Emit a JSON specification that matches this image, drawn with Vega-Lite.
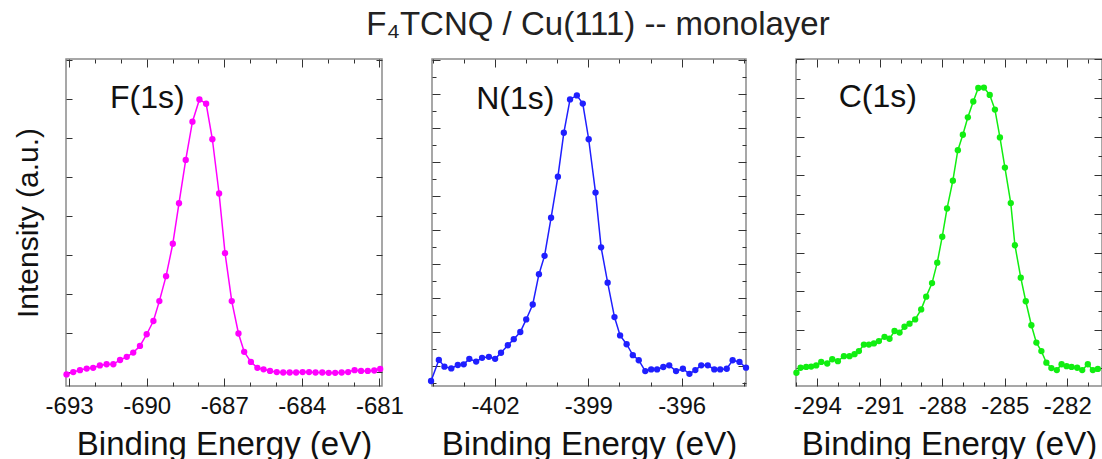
{
  "$schema": "https://vega.github.io/schema/vega-lite/v6.json",
  "background": "white",
  "padding": {"left": 12, "top": 8, "right": 0, "bottom": 0},
  "bounds": "flush",
  "spacing": 50,
  "title": {"text": "F₄TCNQ / Cu(111) -- monolayer", "font": "Liberation Sans", "fontSize": 33, "fontWeight": "normal", "color": "#222222", "anchor": "middle", "offset": 16, "dx": 40},
  "config": {
    "view": {"stroke": "#8a8a8a", "strokeWidth": 1.5},
    "axis": {"domain": false, "grid": false, "tickColor": "#333333", "tickWidth": 1, "labelFont": "Liberation Sans", "labelFontSize": 24, "labelColor": "#111111", "titleFont": "Liberation Sans", "titleFontWeight": "normal", "titleColor": "#111111", "labelFlush": false, "labelOverlap": false}
  },
  "datasets": {
    "F": [
      {"energy": -693.10, "intensity": -0.07}, {"energy": -692.84, "intensity": -0.01}, {"energy": -692.58, "intensity": 0.04}, {"energy": -692.32, "intensity": 0.08}, {"energy": -692.07, "intensity": 0.10}, {"energy": -691.81, "intensity": 0.16}, {"energy": -691.55, "intensity": 0.19}, {"energy": -691.29, "intensity": 0.19}, {"energy": -691.03, "intensity": 0.30}, {"energy": -690.77, "intensity": 0.38}, {"energy": -690.52, "intensity": 0.49}, {"energy": -690.26, "intensity": 0.66}, {"energy": -690.00, "intensity": 0.96}, {"energy": -689.74, "intensity": 1.30}, {"energy": -689.51, "intensity": 1.81}, {"energy": -689.25, "intensity": 2.45}, {"energy": -688.99, "intensity": 3.28}, {"energy": -688.75, "intensity": 4.32}, {"energy": -688.49, "intensity": 5.43}, {"energy": -688.23, "intensity": 6.41}, {"energy": -687.96, "intensity": 6.98}, {"energy": -687.70, "intensity": 6.87}, {"energy": -687.46, "intensity": 5.96}, {"energy": -687.20, "intensity": 4.57}, {"energy": -686.97, "intensity": 3.04}, {"energy": -686.71, "intensity": 1.81}, {"energy": -686.45, "intensity": 0.98}, {"energy": -686.23, "intensity": 0.51}, {"energy": -685.97, "intensity": 0.25}, {"energy": -685.72, "intensity": 0.10}, {"energy": -685.48, "intensity": 0.06}, {"energy": -685.23, "intensity": 0.02}, {"energy": -684.97, "intensity": -0.01}, {"energy": -684.72, "intensity": -0.02}, {"energy": -684.47, "intensity": -0.02}, {"energy": -684.22, "intensity": -0.02}, {"energy": -683.97, "intensity": -0.01}, {"energy": -683.72, "intensity": -0.01}, {"energy": -683.47, "intensity": -0.02}, {"energy": -683.21, "intensity": -0.02}, {"energy": -682.96, "intensity": -0.03}, {"energy": -682.71, "intensity": -0.03}, {"energy": -682.46, "intensity": -0.02}, {"energy": -682.21, "intensity": -0.01}, {"energy": -681.96, "intensity": 0.04}, {"energy": -681.71, "intensity": 0.02}, {"energy": -681.45, "intensity": 0.02}, {"energy": -681.20, "intensity": 0.03}, {"energy": -680.97, "intensity": 0.07}
    ],
    "N": [
      {"energy": -404.06, "intensity": -0.44}, {"energy": -403.81, "intensity": 0.18}, {"energy": -403.63, "intensity": -0.02}, {"energy": -403.41, "intensity": -0.07}, {"energy": -403.20, "intensity": 0.03}, {"energy": -403.01, "intensity": 0.05}, {"energy": -402.83, "intensity": 0.21}, {"energy": -402.61, "intensity": 0.13}, {"energy": -402.42, "intensity": 0.24}, {"energy": -402.20, "intensity": 0.27}, {"energy": -402.00, "intensity": 0.21}, {"energy": -401.81, "intensity": 0.39}, {"energy": -401.59, "intensity": 0.61}, {"energy": -401.40, "intensity": 0.79}, {"energy": -401.19, "intensity": 1.00}, {"energy": -401.00, "intensity": 1.37}, {"energy": -400.79, "intensity": 1.81}, {"energy": -400.59, "intensity": 2.70}, {"energy": -400.41, "intensity": 3.24}, {"energy": -400.20, "intensity": 4.36}, {"energy": -399.98, "intensity": 5.57}, {"energy": -399.79, "intensity": 6.86}, {"energy": -399.59, "intensity": 7.84}, {"energy": -399.37, "intensity": 7.96}, {"energy": -399.18, "intensity": 7.72}, {"energy": -398.99, "intensity": 6.67}, {"energy": -398.77, "intensity": 5.10}, {"energy": -398.59, "intensity": 3.49}, {"energy": -398.38, "intensity": 2.45}, {"energy": -398.16, "intensity": 1.44}, {"energy": -397.98, "intensity": 0.90}, {"energy": -397.77, "intensity": 0.64}, {"energy": -397.57, "intensity": 0.32}, {"energy": -397.38, "intensity": 0.17}, {"energy": -397.17, "intensity": -0.15}, {"energy": -396.98, "intensity": -0.10}, {"energy": -396.79, "intensity": -0.10}, {"energy": -396.59, "intensity": -0.03}, {"energy": -396.40, "intensity": 0.02}, {"energy": -396.18, "intensity": -0.15}, {"energy": -395.96, "intensity": -0.08}, {"energy": -395.75, "intensity": -0.23}, {"energy": -395.56, "intensity": -0.12}, {"energy": -395.37, "intensity": 0.02}, {"energy": -395.16, "intensity": 0.02}, {"energy": -394.95, "intensity": -0.10}, {"energy": -394.76, "intensity": -0.10}, {"energy": -394.55, "intensity": -0.08}, {"energy": -394.36, "intensity": 0.17}, {"energy": -394.14, "intensity": 0.12}, {"energy": -393.93, "intensity": -0.05}
    ],
    "C": [
      {"energy": -295.00, "intensity": -0.11}, {"energy": -294.80, "intensity": 0.02}, {"energy": -294.53, "intensity": 0.04}, {"energy": -294.29, "intensity": 0.05}, {"energy": -294.05, "intensity": 0.08}, {"energy": -293.81, "intensity": 0.17}, {"energy": -293.52, "intensity": 0.13}, {"energy": -293.28, "intensity": 0.24}, {"energy": -293.01, "intensity": 0.19}, {"energy": -292.72, "intensity": 0.32}, {"energy": -292.45, "intensity": 0.32}, {"energy": -292.21, "intensity": 0.37}, {"energy": -292.00, "intensity": 0.45}, {"energy": -291.76, "intensity": 0.62}, {"energy": -291.52, "intensity": 0.62}, {"energy": -291.28, "intensity": 0.65}, {"energy": -291.04, "intensity": 0.71}, {"energy": -290.77, "intensity": 0.82}, {"energy": -290.53, "intensity": 0.77}, {"energy": -290.29, "intensity": 0.97}, {"energy": -290.05, "intensity": 0.93}, {"energy": -289.81, "intensity": 1.08}, {"energy": -289.57, "intensity": 1.16}, {"energy": -289.30, "intensity": 1.27}, {"energy": -289.01, "intensity": 1.53}, {"energy": -288.77, "intensity": 1.86}, {"energy": -288.49, "intensity": 2.21}, {"energy": -288.24, "intensity": 2.74}, {"energy": -288.00, "intensity": 3.41}, {"energy": -287.77, "intensity": 4.14}, {"energy": -287.49, "intensity": 4.86}, {"energy": -287.25, "intensity": 5.65}, {"energy": -287.01, "intensity": 6.05}, {"energy": -286.77, "intensity": 6.50}, {"energy": -286.51, "intensity": 6.91}, {"energy": -286.27, "intensity": 7.26}, {"energy": -286.00, "intensity": 7.27}, {"energy": -285.72, "intensity": 7.08}, {"energy": -285.47, "intensity": 6.70}, {"energy": -285.23, "intensity": 5.98}, {"energy": -284.99, "intensity": 5.20}, {"energy": -284.71, "intensity": 4.28}, {"energy": -284.51, "intensity": 3.19}, {"energy": -284.23, "intensity": 2.35}, {"energy": -283.99, "intensity": 1.74}, {"energy": -283.72, "intensity": 1.12}, {"energy": -283.48, "intensity": 0.67}, {"energy": -283.24, "intensity": 0.45}, {"energy": -283.00, "intensity": 0.15}, {"energy": -282.76, "intensity": 0.01}, {"energy": -282.50, "intensity": -0.04}, {"energy": -282.27, "intensity": 0.11}, {"energy": -282.03, "intensity": 0.06}, {"energy": -281.79, "intensity": 0.04}, {"energy": -281.52, "intensity": 0.02}, {"energy": -281.28, "intensity": -0.04}, {"energy": -281.01, "intensity": 0.11}, {"energy": -280.77, "intensity": -0.04}, {"energy": -280.53, "intensity": -0.01}
    ]
  },
  "hconcat": [
    {
      "width": 316, "height": 327,
      "data": {"name": "F"},
      "layer": [
        {"mark": {"type": "line", "color": "#ff00ff", "strokeWidth": 1.5, "clip": false},
         "encoding": {
           "x": {"field": "energy", "type": "quantitative", "scale": {"domain": [-693.12, -680.9], "nice": false, "zero": false},
                 "axis": {"orient": "bottom", "title": "Binding Energy (eV)", "titleFontSize": 33, "titlePadding": 6, "values": [-693, -692, -691, -690, -689, -688, -687, -686, -685, -684, -683, -682, -681], "labelExpr": "datum.value % 3 === 0 ? '' + datum.value : ''", "tickSize": {"condition": {"test": "datum.value % 3 === 0", "value": -8}, "value": -4}, "labelPadding": 16}},
           "y": {"field": "intensity", "type": "quantitative", "scale": {"domain": [-0.367, 8.018], "nice": false, "zero": false},
                 "axis": {"orient": "left", "title": "Intensity (a.u.)", "titleFontSize": 30, "titlePadding": 22, "values": [0, 1, 2, 3, 4, 5, 6, 7, 8], "labels": false, "tickSize": -6}}
         }},
        {"mark": {"type": "point", "filled": true, "color": "#ff00ff", "size": 40, "opacity": 1, "clip": false},
         "encoding": {
           "x": {"field": "energy", "type": "quantitative", "axis": {"orient": "top", "title": null, "labels": false, "values": [-693, -692, -691, -690, -689, -688, -687, -686, -685, -684, -683, -682, -681], "tickSize": {"condition": {"test": "datum.value % 3 === 0", "value": -8}, "value": -4}}},
           "y": {"field": "intensity", "type": "quantitative", "axis": {"orient": "right", "title": null, "labels": false, "values": [0, 1, 2, 3, 4, 5, 6, 7, 8], "tickSize": -6}}
         }},
        {"data": {"values": [{"label": "F(1s)", "energy": -691.42, "intensity": 6.77}]},
         "mark": {"type": "text", "align": "left", "baseline": "alphabetic", "font": "Liberation Sans", "fontSize": 32, "color": "#111111"},
         "encoding": {
           "x": {"field": "energy", "type": "quantitative", "axis": null},
           "y": {"field": "intensity", "type": "quantitative", "axis": null},
           "text": {"field": "label"}
         }}
      ],
      "resolve": {"axis": {"x": "independent", "y": "independent"}}
    },
    {
      "width": 314, "height": 327,
      "data": {"name": "N"},
      "layer": [
        {"mark": {"type": "line", "color": "#1f1fff", "strokeWidth": 1.5, "clip": false},
         "encoding": {
           "x": {"field": "energy", "type": "quantitative", "scale": {"domain": [-404.03, -393.93], "nice": false, "zero": false},
                 "axis": {"orient": "bottom", "title": "Binding Energy (eV)", "titleFontSize": 33, "titlePadding": 6, "values": [-404, -403, -402, -401, -400, -399, -398, -397, -396, -395, -394], "labelExpr": "datum.value % 3 === 0 ? '' + datum.value : ''", "tickSize": {"condition": {"test": "datum.value % 3 === 0", "value": -8}, "value": -4}, "labelPadding": 16}},
           "y": {"field": "intensity", "type": "quantitative", "scale": {"domain": [-0.588, 9.03], "nice": false, "zero": false},
                 "axis": {"orient": "left", "title": null, "values": [-0.5, 0, 0.5, 1, 1.5, 2, 2.5, 3, 3.5, 4, 4.5, 5, 5.5, 6, 6.5, 7, 7.5, 8, 8.5, 9], "labels": false, "tickSize": {"condition": {"test": "datum.value % 1 === 0", "value": -8}, "value": -4}}}
         }},
        {"mark": {"type": "point", "filled": true, "color": "#1f1fff", "size": 40, "opacity": 1, "clip": false},
         "encoding": {
           "x": {"field": "energy", "type": "quantitative", "axis": {"orient": "top", "title": null, "labels": false, "values": [-404, -403, -402, -401, -400, -399, -398, -397, -396, -395, -394], "tickSize": {"condition": {"test": "datum.value % 3 === 0", "value": -8}, "value": -4}}},
           "y": {"field": "intensity", "type": "quantitative", "axis": {"orient": "right", "title": null, "labels": false, "values": [-0.5, 0, 0.5, 1, 1.5, 2, 2.5, 3, 3.5, 4, 4.5, 5, 5.5, 6, 6.5, 7, 7.5, 8, 8.5, 9], "tickSize": {"condition": {"test": "datum.value % 1 === 0", "value": -8}, "value": -4}}}
         }},
        {"data": {"values": [{"label": "N(1s)", "energy": -402.61, "intensity": 7.55}]},
         "mark": {"type": "text", "align": "left", "baseline": "alphabetic", "font": "Liberation Sans", "fontSize": 32, "color": "#111111"},
         "encoding": {
           "x": {"field": "energy", "type": "quantitative", "axis": null},
           "y": {"field": "intensity", "type": "quantitative", "axis": null},
           "text": {"field": "label"}
         }}
      ],
      "resolve": {"axis": {"x": "independent", "y": "independent"}}
    },
    {
      "width": 306, "height": 327,
      "data": {"name": "C"},
      "layer": [
        {"mark": {"type": "line", "color": "#11ee11", "strokeWidth": 1.5, "clip": false},
         "encoding": {
           "x": {"field": "energy", "type": "quantitative", "scale": {"domain": [-295.02, -280.33], "nice": false, "zero": false},
                 "axis": {"orient": "bottom", "title": "Binding Energy (eV)", "titleFontSize": 33, "titlePadding": 6, "values": [-295, -294, -293, -292, -291, -290, -289, -288, -287, -286, -285, -284, -283, -282, -281], "labelExpr": "datum.value % 3 === 0 ? '' + datum.value : ''", "tickSize": {"condition": {"test": "datum.value % 3 === 0", "value": -8}, "value": -4}, "labelPadding": 16}},
           "y": {"field": "intensity", "type": "quantitative", "scale": {"domain": [-0.453, 8.01], "nice": false, "zero": false},
                 "axis": {"orient": "left", "title": null, "values": [0, 0.5, 1, 1.5, 2, 2.5, 3, 3.5, 4, 4.5, 5, 5.5, 6, 6.5, 7, 7.5, 8], "labels": false, "tickSize": {"condition": {"test": "datum.value % 1 === 0", "value": -8}, "value": -4}}}
         }},
        {"mark": {"type": "point", "filled": true, "color": "#11ee11", "size": 40, "opacity": 1, "clip": false},
         "encoding": {
           "x": {"field": "energy", "type": "quantitative", "axis": {"orient": "top", "title": null, "labels": false, "values": [-295, -294, -293, -292, -291, -290, -289, -288, -287, -286, -285, -284, -283, -282, -281], "tickSize": {"condition": {"test": "datum.value % 3 === 0", "value": -8}, "value": -4}}},
           "y": {"field": "intensity", "type": "quantitative", "axis": {"orient": "right", "title": null, "labels": false, "values": [0, 0.5, 1, 1.5, 2, 2.5, 3, 3.5, 4, 4.5, 5, 5.5, 6, 6.5, 7, 7.5, 8], "tickSize": {"condition": {"test": "datum.value % 1 === 0", "value": -8}, "value": -4}}}
         }},
        {"data": {"values": [{"label": "C(1s)", "energy": -292.97, "intensity": 6.78}]},
         "mark": {"type": "text", "align": "left", "baseline": "alphabetic", "font": "Liberation Sans", "fontSize": 32, "color": "#111111"},
         "encoding": {
           "x": {"field": "energy", "type": "quantitative", "axis": null},
           "y": {"field": "intensity", "type": "quantitative", "axis": null},
           "text": {"field": "label"}
         }}
      ],
      "resolve": {"axis": {"x": "independent", "y": "independent"}}
    }
  ]
}
